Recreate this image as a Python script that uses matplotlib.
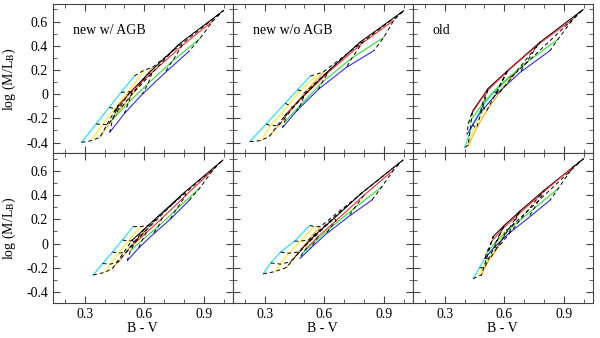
import matplotlib
matplotlib.use("Agg")
import matplotlib.pyplot as plt
from matplotlib.ticker import MultipleLocator, FuncFormatter

plt.rcParams['font.family'] = ['Liberation Serif', 'DejaVu Serif']
plt.rcParams['mathtext.fontset'] = 'stix'

# line order for every grid: cyan, yellow, orange, black, red, green, blue
colors = ['#00e5ee', '#ffee00', '#ffa500', 'black', '#ff2020', '#20e020', '#2020ff']
labels = ['new w/ AGB', 'new w/o AGB', 'old']

# top row, B-V and log(M/L_B) at 5 grid points per track
bv_top_agb = [[0.284, 0.357, 0.423, 0.483, 0.550],
              [0.334, 0.390, 0.450, 0.520, 0.600],
              [0.376, 0.420, 0.480, 0.550, 0.640],
              [0.450, 0.520, 0.620, 0.780, 0.998],
              [0.470, 0.540, 0.640, 0.790, 0.947],
              [0.440, 0.520, 0.620, 0.740, 0.880],
              [0.426, 0.500, 0.590, 0.700, 0.825]]
ml_top_agb = [[-0.398, -0.246, -0.109, 0.015, 0.150],
              [-0.384, -0.250, -0.120, 0.020, 0.200],
              [-0.357, -0.250, -0.120, 0.020, 0.220],
              [-0.140, 0.000, 0.170, 0.420, 0.690],
              [-0.090, 0.030, 0.180, 0.400, 0.608],
              [-0.210, -0.070, 0.090, 0.270, 0.460],
              [-0.315, -0.160, 0.000, 0.170, 0.354]]

bv_top_noagb = [[0.225, 0.307, 0.403, 0.465, 0.530],
                [0.280, 0.330, 0.420, 0.480, 0.570],
                [0.322, 0.370, 0.440, 0.500, 0.600],
                [0.400, 0.480, 0.600, 0.780, 1.000],
                [0.410, 0.500, 0.620, 0.790, 0.950],
                [0.400, 0.480, 0.590, 0.740, 0.900],
                [0.390, 0.460, 0.570, 0.710, 0.850]]
ml_top_noagb = [[-0.392, -0.246, -0.075, 0.035, 0.150],
                [-0.384, -0.260, -0.090, 0.030, 0.170],
                [-0.350, -0.260, -0.110, 0.010, 0.190],
                [-0.180, -0.040, 0.160, 0.430, 0.690],
                [-0.160, -0.010, 0.180, 0.420, 0.610],
                [-0.230, -0.090, 0.100, 0.300, 0.470],
                [-0.275, -0.140, 0.040, 0.220, 0.360]]

bv_top_old = [[0.401, 0.440, 0.490, 0.550, 0.628],
              [0.410, 0.450, 0.500, 0.560, 0.640],
              [0.418, 0.460, 0.510, 0.570, 0.653],
              [0.440, 0.520, 0.620, 0.780, 0.997],
              [0.435, 0.510, 0.610, 0.770, 0.946],
              [0.418, 0.490, 0.580, 0.710, 0.872],
              [0.413, 0.480, 0.560, 0.680, 0.830]]
ml_top_old = [[-0.440, -0.250, -0.100, 0.020, 0.140],
              [-0.430, -0.270, -0.120, 0.010, 0.150],
              [-0.425, -0.280, -0.140, 0.000, 0.167],
              [-0.140, 0.050, 0.200, 0.430, 0.700],
              [-0.163, 0.020, 0.180, 0.410, 0.620],
              [-0.246, -0.080, 0.080, 0.260, 0.456],
              [-0.330, -0.150, 0.000, 0.180, 0.360]]

# bottom row
bv_bot_agb = [[0.342, 0.390, 0.440, 0.490, 0.544],
              [0.401, 0.430, 0.470, 0.520, 0.580],
              [0.440, 0.470, 0.510, 0.560, 0.620],
              [0.540, 0.600, 0.680, 0.800, 0.996],
              [0.550, 0.610, 0.690, 0.810, 0.947],
              [0.530, 0.590, 0.670, 0.760, 0.880],
              [0.515, 0.570, 0.640, 0.730, 0.825]]
ml_bot_agb = [[-0.260, -0.165, -0.070, 0.030, 0.140],
              [-0.238, -0.170, -0.080, 0.020, 0.140],
              [-0.205, -0.150, -0.070, 0.030, 0.150],
              [0.030, 0.120, 0.240, 0.420, 0.690],
              [0.000, 0.090, 0.210, 0.400, 0.610],
              [-0.060, 0.030, 0.140, 0.280, 0.460],
              [-0.140, -0.040, 0.070, 0.200, 0.355]]

bv_bot_noagb = [[0.292, 0.330, 0.380, 0.450, 0.527],
                [0.351, 0.380, 0.420, 0.480, 0.550],
                [0.410, 0.430, 0.470, 0.520, 0.580],
                [0.500, 0.560, 0.650, 0.790, 0.996],
                [0.510, 0.570, 0.660, 0.800, 0.950],
                [0.490, 0.550, 0.630, 0.750, 0.890],
                [0.477, 0.530, 0.610, 0.720, 0.840]]
ml_bot_noagb = [[-0.250, -0.160, -0.070, 0.020, 0.150],
                [-0.232, -0.170, -0.080, 0.020, 0.140],
                [-0.197, -0.150, -0.070, 0.030, 0.140],
                [-0.020, 0.080, 0.210, 0.420, 0.690],
                [-0.040, 0.060, 0.190, 0.400, 0.610],
                [-0.080, 0.010, 0.130, 0.290, 0.470],
                [-0.123, -0.040, 0.080, 0.220, 0.360]]

bv_bot_old = [[0.443, 0.475, 0.502, 0.550, 0.600],
              [0.470, 0.490, 0.520, 0.560, 0.600],
              [0.485, 0.500, 0.530, 0.570, 0.620],
              [0.544, 0.600, 0.680, 0.800, 0.998],
              [0.536, 0.590, 0.670, 0.800, 0.947],
              [0.510, 0.560, 0.640, 0.750, 0.872],
              [0.502, 0.550, 0.620, 0.720, 0.830]]
ml_bot_old = [[-0.290, -0.200, -0.123, -0.030, 0.060],
              [-0.270, -0.200, -0.120, -0.030, 0.100],
              [-0.260, -0.200, -0.120, -0.030, 0.120],
              [0.058, 0.150, 0.270, 0.440, 0.700],
              [0.017, 0.120, 0.240, 0.430, 0.634],
              [-0.080, 0.020, 0.140, 0.290, 0.455],
              [-0.123, -0.030, 0.080, 0.210, 0.358]]

grids = [[(bv_top_agb, ml_top_agb), (bv_top_noagb, ml_top_noagb), (bv_top_old, ml_top_old)],
         [(bv_bot_agb, ml_bot_agb), (bv_bot_noagb, ml_bot_noagb), (bv_bot_old, ml_bot_old)]]


def fmt(v, pos):
    if abs(v) < 1e-9:
        return '0'
    return '%.1f' % v


fig, axes = plt.subplots(2, 3, figsize=(6.0, 3.38), dpi=100, sharex=True, sharey=True)
fig.subplots_adjust(left=0.088, right=0.988, top=0.988, bottom=0.104, wspace=0, hspace=0)

for r in range(2):
    for c in range(3):
        ax = axes[r][c]
        bv, ml = grids[r][c]
        # tracks (solid, coloured)
        for i in range(len(bv)):
            ax.plot(bv[i], ml[i], color=colors[i], lw=0.75, zorder=2)
        # connecting lines (dashed, black)
        for j in range(len(bv[0])):
            xs = [bv[i][j] for i in range(len(bv))]
            ys = [ml[i][j] for i in range(len(bv))]
            ax.plot(xs, ys, color='black', lw=0.7, dashes=(4, 3), zorder=3)

        ax.set_xlim(0.139, 1.046)
        ax.set_ylim(-0.49, 0.745)
        ax.xaxis.set_major_locator(MultipleLocator(0.3))
        ax.xaxis.set_minor_locator(MultipleLocator(0.1))
        ax.yaxis.set_major_locator(MultipleLocator(0.2))
        ax.yaxis.set_minor_locator(MultipleLocator(0.1))
        ax.tick_params(which='both', direction='in', top=True, right=True, labelsize=10, color='#444444')
        ax.tick_params(which='major', length=5)
        ax.tick_params(which='minor', length=3)
        for s in ax.spines.values():
            s.set_color('#444444')
        if r == 0:
            ax.text(0.11, 0.8, labels[c], transform=ax.transAxes, fontsize=10)
        if r == 1:
            ax.set_xlabel('B - V', fontsize=10, labelpad=1)
        if c == 0:
            ax.set_ylabel(r'log (M/L$_\mathrm{B}$)', fontsize=10, labelpad=6)

axes[1][0].yaxis.set_major_formatter(FuncFormatter(fmt))
axes[1][0].xaxis.set_major_formatter(FuncFormatter(lambda v, p: '%.1f' % v))

fig.savefig('out.png', dpi=100)
